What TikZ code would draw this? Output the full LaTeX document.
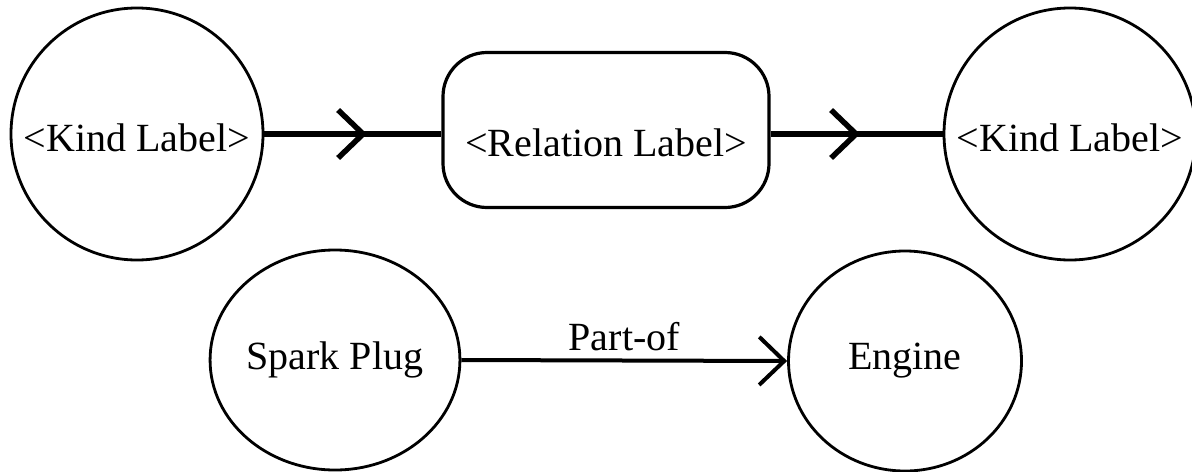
\documentclass[tikz,border=0pt]{standalone}
\usepackage{fontspec}
\setmainfont{Liberation Serif}
\usepackage{xcolor}
\usepackage{tikz}
\usetikzlibrary{arrows.meta,shapes.geometric,decorations.markings}
\definecolor{ink}{HTML}{000000}
\definecolor{paper}{HTML}{FFFFFF}
\newcommand{\labfont}{\fontsize{20}{24}\selectfont}
\tikzset{
  chev/.tip={Straight Barb[length=12.5pt,width=24pt]},
  kind/.style={circle, draw=ink, line width=1.4pt, minimum size=126pt, inner sep=0pt, text height=17pt, text depth=0pt, font=\labfont},
  thing/.style={ellipse, draw=ink, line width=1.4pt, minimum width=116.5pt, minimum height=110pt, inner sep=0pt, font=\labfont},
  relbox/.style={rectangle, rounded corners=22pt, draw=ink, line width=1.6pt, minimum width=163pt, minimum height=77.5pt, inner sep=0pt, text height=26pt, text depth=0pt, font=\labfont},
  link/.style={draw=ink, line width=2.75pt},
  midtip/.style={postaction={decorate}, decoration={markings, mark=at position #1 with {\arrow{chev}}}},
  flow/.style={draw=ink, line width=2pt, -chev},
  lab/.style={text=ink, font=\labfont},
}

\begin{document}
\begin{tikzpicture}[x=0.5pt, y=-0.5pt]
  \fill[paper] (0,0) rectangle (1192,471);
  \useasboundingbox (0,0) rectangle (1192,471);
  % pattern
  \node[kind] (kindA) at (137,134) {<Kind Label>};
  \node[relbox] (rel) at (606,130) {<Relation Label>};
  \node[kind] (kindB) at (1070,134) {<Kind Label>};
  \draw[link, midtip=0.58] (kindA.east) -- (kindA.east -| rel.west);
  \draw[link, midtip=0.52] (kindB.west -| rel.east) -- (kindB.west);
  % instance
  \node[thing] (spark) at (335,360) {Spark Plug};
  \node[thing] (engine) at (905,361) {Engine};
  \draw[flow] (spark.east) -- node[lab, above=4pt, inner sep=0pt] {Part-of} (engine.west);
\end{tikzpicture}
\end{document}
